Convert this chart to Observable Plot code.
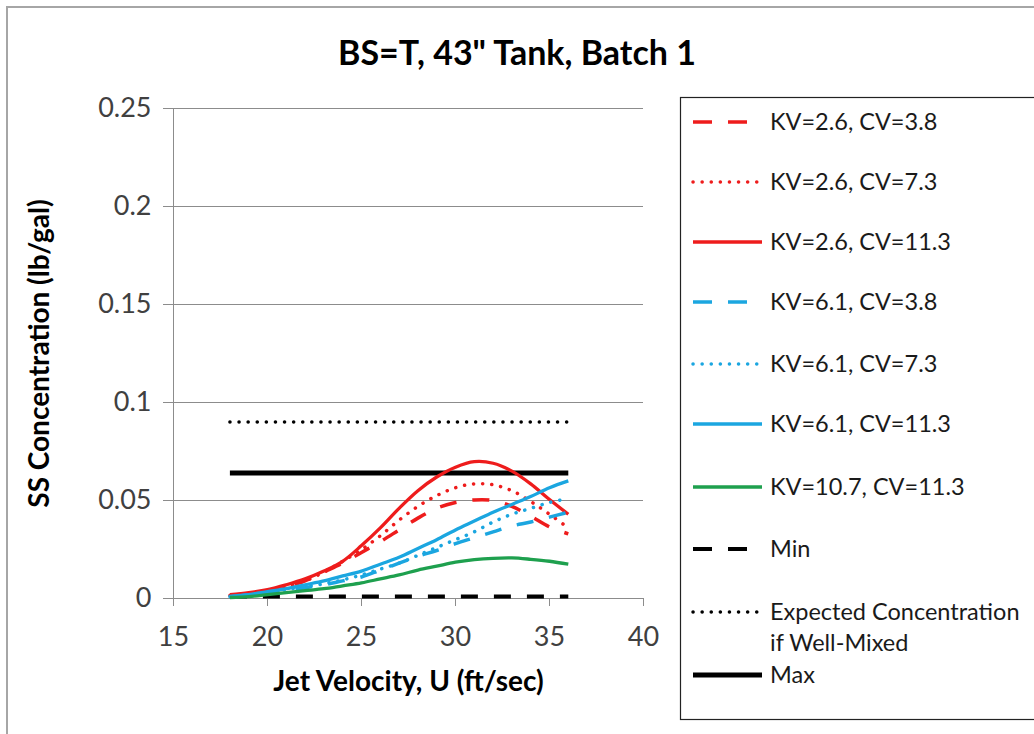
<!DOCTYPE html>
<html>
<head>
<meta charset="utf-8">
<script src="https://cdn.jsdelivr.net/npm/d3@7"></script>
<script src="https://cdn.jsdelivr.net/npm/@observablehq/plot@0.6"></script>
<style>
  body { margin: 0; background: #fff; }
  #chart { position: relative; width: 1034px; height: 734px; overflow: hidden; font-family: Lato, "Open Sans", sans-serif; background: #fff; }
  #border { position: absolute; left: 6px; top: 6px; width: 1100px; height: 800px; border-left: 2px solid #a6a6a6; border-top: 2px solid #a6a6a6; }
  #title { position: absolute; left: 0; top: 34px; width: 1034px; line-height: 36px; text-align: center; font-weight: bold; font-size: 34px; color: #000; }
  #plot, #legend { position: absolute; left: 0; top: 0; }
</style>
</head>
<body>
<div id="chart">
  <div id="border"></div>
  <div id="plot"></div>
  <div id="legend"></div>
  <div id="title">BS=T, 43" Tank, Batch 1</div>
</div>
<script>
// Jet velocity (ft/sec) at which each curve is sampled
const velocity = [18, 19, 20, 21, 22, 23, 24, 25, 26, 27, 28, 29, 30, 31, 32, 33, 34, 35, 36];

// Slurry concentration (lb/gal) for each KV / CV combination
const kv26cv38  = [0.0015, 0.0025, 0.004, 0.006, 0.009, 0.0135, 0.018, 0.0235, 0.029, 0.035, 0.041, 0.046, 0.049, 0.0503, 0.050, 0.047, 0.042, 0.0365, 0.033];
const kv26cv73  = [0.0015, 0.0025, 0.004, 0.006, 0.009, 0.0135, 0.019, 0.025, 0.032, 0.040, 0.047, 0.0525, 0.0565, 0.0585, 0.058, 0.055, 0.0495, 0.043, 0.036];
const kv26cv113 = [0.002, 0.003, 0.0045, 0.007, 0.010, 0.014, 0.019, 0.027, 0.036, 0.046, 0.055, 0.062, 0.067, 0.0698, 0.069, 0.065, 0.0585, 0.0505, 0.043];
const kv61cv38  = [0.001, 0.002, 0.003, 0.004, 0.0055, 0.007, 0.009, 0.011, 0.0145, 0.018, 0.0215, 0.0245, 0.028, 0.031, 0.034, 0.037, 0.039, 0.0415, 0.044];
const kv61cv73  = [0.001, 0.002, 0.003, 0.0045, 0.006, 0.0075, 0.0095, 0.012, 0.015, 0.018, 0.022, 0.026, 0.030, 0.034, 0.039, 0.043, 0.046, 0.049, 0.051];
const kv61cv113 = [0.001, 0.002, 0.0035, 0.005, 0.007, 0.009, 0.0115, 0.014, 0.0175, 0.021, 0.0255, 0.030, 0.035, 0.0395, 0.044, 0.048, 0.052, 0.0565, 0.060];
const kv107cv113 = [0.0005, 0.001, 0.002, 0.003, 0.004, 0.005, 0.0065, 0.008, 0.010, 0.012, 0.0145, 0.0165, 0.0185, 0.0198, 0.0205, 0.0207, 0.020, 0.019, 0.0175];

// Reference levels over the tested velocity span
const referenceSpan = [18, 36];
const minConc = 0.001;
const expectedConc = 0.09;
const maxConc = 0.064;

// Axis ticks
const xTicks = [15, 20, 25, 30, 35, 40];
const yTicks = [0, 0.05, 0.1, 0.15, 0.2, 0.25];

const RED = "#ee1c1c", BLUE = "#1ba6e0", GREEN = "#1ea04e", BLACK = "#000";
const DASH = "17,16", DOT = "0.1,9";

const series = [
  {label: "KV=2.6, CV=3.8",  values: kv26cv38,  stroke: RED,  dash: DASH, width: 3.5},
  {label: "KV=2.6, CV=7.3",  values: kv26cv73,  stroke: RED,  dash: DOT,  width: 3.5},
  {label: "KV=2.6, CV=11.3", values: kv26cv113, stroke: RED,  dash: null, width: 3.3},
  {label: "KV=6.1, CV=3.8",  values: kv61cv38,  stroke: BLUE, dash: DASH, width: 3.5},
  {label: "KV=6.1, CV=7.3",  values: kv61cv73,  stroke: BLUE, dash: DOT,  width: 3.5},
  {label: "KV=6.1, CV=11.3", values: kv61cv113, stroke: BLUE, dash: null, width: 3.3},
  {label: "KV=10.7, CV=11.3", values: kv107cv113, stroke: GREEN, dash: null, width: 3.3}
];
const references = [
  {label: ["Min"], value: minConc, stroke: BLACK, dash: DASH, width: 4},
  {label: ["Expected Concentration", "if Well-Mixed"], value: expectedConc, stroke: BLACK, dash: DOT, width: 3.5},
  {label: ["Max"], value: maxConc, stroke: BLACK, dash: null, width: 5}
];

const GRID = "#8c8c8c";
const FONT = "Lato, 'Open Sans', sans-serif";
const marks = [
  Plot.gridY(yTicks, {stroke: GRID, strokeOpacity: 1, strokeWidth: 1}),
  Plot.axisY(yTicks, {tickSize: 10, tickPadding: 12, stroke: GRID, fontSize: 27, fill: "#404040", tickFormat: d => String(d), label: null}),
  Plot.axisX(xTicks, {tickSize: 8, tickPadding: 20, stroke: GRID, fontSize: 27, fill: "#404040", label: null}),
  Plot.ruleX([15], {stroke: GRID, strokeWidth: 1}),
  Plot.ruleY([0], {stroke: GRID, strokeWidth: 1}),
  Plot.text(["Jet Velocity, U (ft/sec)"], {frameAnchor: "bottom", dy: 92, fontSize: 28, fontWeight: "bold", fill: "#000"}),
  Plot.text(["SS Concentration (lb/gal)"], {frameAnchor: "left", dx: -133, rotate: -90, textAnchor: "middle", fontSize: 28, fontWeight: "bold", fill: "#000"})
];

for (const r of references) {
  marks.push(Plot.line(referenceSpan, {
    x: d => d, y: () => r.value, stroke: r.stroke, strokeWidth: r.width,
    strokeDasharray: r.dash ?? undefined, strokeLinecap: r.dash === DOT ? "round" : "butt"
  }));
}
for (const s of series) {
  marks.push(Plot.line(velocity, {
    x: d => d, y: (d, i) => s.values[i], curve: "catmull-rom",
    stroke: s.stroke, strokeWidth: s.width,
    strokeDasharray: s.dash ?? undefined, strokeLinecap: s.dash === DOT ? "round" : "butt"
  }));
}

const chart = Plot.plot({
  width: 1034,
  height: 734,
  marginLeft: 173,
  marginRight: 391,
  marginTop: 108,
  marginBottom: 136,
  style: {background: "transparent", fontFamily: FONT},
  x: {domain: [15, 40]},
  y: {domain: [0, 0.25]},
  marks
});
document.getElementById("plot").append(chart);

// Legend box on the right
const entries = [
  ...series.map(s => ({lines: [s.label], stroke: s.stroke, dash: s.dash, width: s.width})),
  ...references.map(r => ({lines: r.label, stroke: r.stroke, dash: r.dash, width: r.width}))
];
const rowY = [122, 182, 242, 302, 364, 424, 487, 549, 612, 675];
const svg = d3.select("#legend").append("svg")
  .attr("width", 1034).attr("height", 734)
  .style("font-family", FONT);
svg.append("rect").attr("x", 680.5).attr("y", 97.5).attr("width", 400).attr("height", 622)
  .attr("fill", "none").attr("stroke", "#222").attr("stroke-width", 1.2);
entries.forEach((e, i) => {
  const y = rowY[i];
  svg.append("line").attr("x1", 693).attr("x2", 762).attr("y1", y).attr("y2", y)
    .attr("stroke", e.stroke).attr("stroke-width", e.width)
    .attr("stroke-dasharray", e.dash === DASH ? "19,16" : e.dash)
    .attr("stroke-linecap", e.dash === DOT ? "round" : "butt");
  e.lines.forEach((t, j) => {
    svg.append("text").attr("x", 770).attr("y", y + j * 31).attr("dy", "0.35em")
      .attr("font-size", 23.5).attr("fill", "#1a1a1a").text(t);
  });
});
</script>
</body>
</html>
